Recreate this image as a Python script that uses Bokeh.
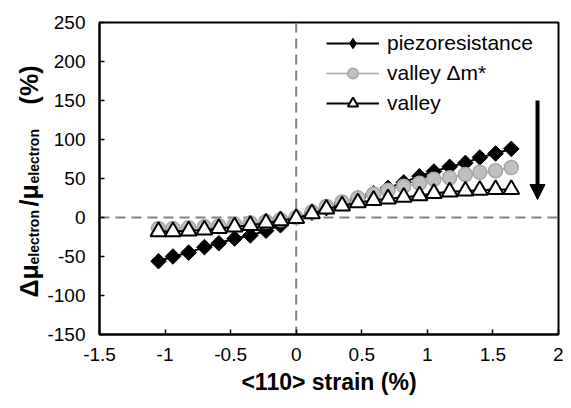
import math
from bokeh.plotting import figure
from bokeh.layouts import row
from bokeh.models import (ColumnDataSource, Span, Arrow, NormalHead, Label,
                          Legend, LegendItem, FixedTicker)
from bokeh.embed import file_html
from bokeh.resources import INLINE

# ---------------- data ----------------
strain = [-1.05, -0.94, -0.82, -0.70, -0.59, -0.47, -0.35, -0.23, -0.12, 0.0,
          0.12, 0.23, 0.35, 0.47, 0.59, 0.70, 0.82, 0.94, 1.05, 1.17,
          1.29, 1.40, 1.52, 1.64]
piezoresistance = [-56, -50, -45, -38, -33, -27, -23, -17, -10, 0,
                   6, 12, 19, 25, 31, 38, 45, 53, 59, 65,
                   70, 77, 82, 88]
valley_dm = [-14, -14, -13, -12, -11, -9, -7, -5, -3, 0,
             7, 14, 20, 25, 30, 35, 40, 44, 49, 51,
             55, 58, 60, 64]
valley = [-18, -18, -17, -16, -14, -12, -10, -7, -4, -1,
          5, 11, 15, 19, 22, 24, 26, 28, 31, 33,
          34, 35, 36, 36]
series_names = ["piezoresistance", "valley \u0394m*", "valley"]

x_ticks = [-1.5, -1, -0.5, 0, 0.5, 1, 1.5, 2]
x_tick_labels = ["-1.5", "-1", "-0.5", "0", "0.5", "1", "1.5", "2"]
y_ticks = [-150, -100, -50, 0, 50, 100, 150, 200, 250]
y_tick_labels = ["-150", "-100", "-50", "0", "50", "100", "150", "200", "250"]

x_title = "<110> strain (%)"
y_title_parts = ["\u0394\u03bc", "electron", "/\u03bc", "electron", "(%)"]

# arrow (data coordinates)
arrow_x = 1.84
arrow_y_start = 150
arrow_y_end = 23

FONT = "Liberation Sans"
H = 400
LEFT_W = 44
Y_RANGE = (-150, 250)
BORDER_TOP, BORDER_BOTTOM = 22, 66

# ---------------- y title panel (shares the main y scale) ----------------
t = figure(width=LEFT_W, height=H, x_range=(0, LEFT_W), y_range=Y_RANGE,
           output_backend="svg", toolbar_location=None,
           x_axis_location=None, y_axis_location=None,
           min_border_left=0, min_border_right=0,
           min_border_top=BORDER_TOP, min_border_bottom=BORDER_BOTTOM)
t.grid.visible = False
t.outline_line_color = None
# layout of the rotated title pieces: x in panel pixels, y in value units
part_x = [28, 33, 28, 33, 28]
part_y = [-102.6, -60.3, 14.1, 43.6, 145]
part_size = ["25px", "14px", "25px", "14px", "25px"]
for px_, py_, txt, sz in zip(part_x, part_y, y_title_parts, part_size):
    t.add_layout(Label(x=px_, y=py_, text=txt, angle=math.pi / 2,
                       text_align="left", text_baseline="alphabetic",
                       text_font=FONT, text_font_size=sz,
                       text_font_style="bold", text_color="black"))

# ---------------- main figure ----------------
p = figure(width=563 - LEFT_W, height=H, x_range=(-1.5, 2), y_range=Y_RANGE,
           output_backend="svg", toolbar_location=None,
           min_border_left=54, min_border_right=5,
           min_border_top=BORDER_TOP, min_border_bottom=BORDER_BOTTOM)
p.grid.visible = False
p.outline_line_color = "black"
p.outline_line_width = 2
p.background_fill_color = "white"
p.border_fill_color = "white"


def key(v):
    return int(v) if float(v).is_integer() else v


for ax, ticks, labels in ((p.xaxis[0], x_ticks, x_tick_labels),
                          (p.yaxis[0], y_ticks, y_tick_labels)):
    ax.ticker = FixedTicker(ticks=ticks)
    ax.major_label_overrides = {key(tk): lb for tk, lb in zip(ticks, labels)}
    ax.axis_line_width = 2
    ax.axis_line_color = "black"
    ax.major_tick_line_width = 1.5
    ax.major_tick_line_color = "black"
    ax.major_tick_in = 5
    ax.major_tick_out = 0
    ax.minor_tick_line_color = None
    ax.major_label_text_font = FONT
    ax.major_label_text_font_size = "19px"
    ax.major_label_text_color = "black"
p.xaxis[0].major_label_standoff = 13
p.yaxis[0].major_label_standoff = 14
p.xaxis[0].axis_label = x_title
p.xaxis[0].axis_label_text_font = FONT
p.xaxis[0].axis_label_text_font_size = "23px"
p.xaxis[0].axis_label_text_font_style = "bold"
p.xaxis[0].axis_label_text_color = "black"
p.xaxis[0].axis_label_standoff = 5

# dashed zero lines
p.add_layout(Span(location=0, dimension="width", line_color="#808080",
                  line_width=2, line_dash="10 6", level="underlay"))
p.add_layout(Span(location=0, dimension="height", line_color="#808080",
                  line_width=2, line_dash="10 6", level="underlay"))

src = ColumnDataSource(dict(strain=strain, piezo=piezoresistance,
                            dm=valley_dm, valley=valley))

l1 = p.line("strain", "piezo", source=src, line_color="black", line_width=2)
# zero-size diamonds: invisible in the plot, give the legend its diamond symbol
s1_leg = p.scatter("strain", "piezo", source=src, marker="diamond", size=0,
                   fill_color="black", line_color="black", line_width=1)
s1 = p.scatter("strain", "piezo", source=src, marker="square", size=11,
               angle=math.pi / 4, fill_color="black", line_color="black")
l2 = p.line("strain", "dm", source=src, line_color="#A6A6A6", line_width=1.5)
s2 = p.scatter("strain", "dm", source=src, marker="circle", size=14,
               fill_color="#C0C0C0", line_color="#A6A6A6", line_width=1.5)
l3 = p.line("strain", "valley", source=src, line_color="black", line_width=2)
s3 = p.scatter("strain", "valley", source=src, marker="triangle", size=16,
               fill_color="white", line_color="black", line_width=2)

legend = Legend(items=[LegendItem(label=series_names[0], renderers=[l1, s1_leg]),
                       LegendItem(label=series_names[1], renderers=[l2, s2]),
                       LegendItem(label=series_names[2], renderers=[l3, s3])],
                location=(227, 218), border_line_color=None,
                background_fill_alpha=0, label_text_font=FONT,
                label_text_font_size="21px", label_text_color="black",
                glyph_width=53, glyph_height=26, label_height=22,
                spacing=4, label_standoff=8, padding=0, margin=0)
p.add_layout(legend)

p.add_layout(Arrow(end=NormalHead(size=15, fill_color="black", line_color="black"),
                   x_start=arrow_x, y_start=arrow_y_start,
                   x_end=arrow_x, y_end=arrow_y_end,
                   line_width=4, line_color="black"))

layout = row(t, p)
open("out.html", "w").write(file_html(layout, INLINE))
